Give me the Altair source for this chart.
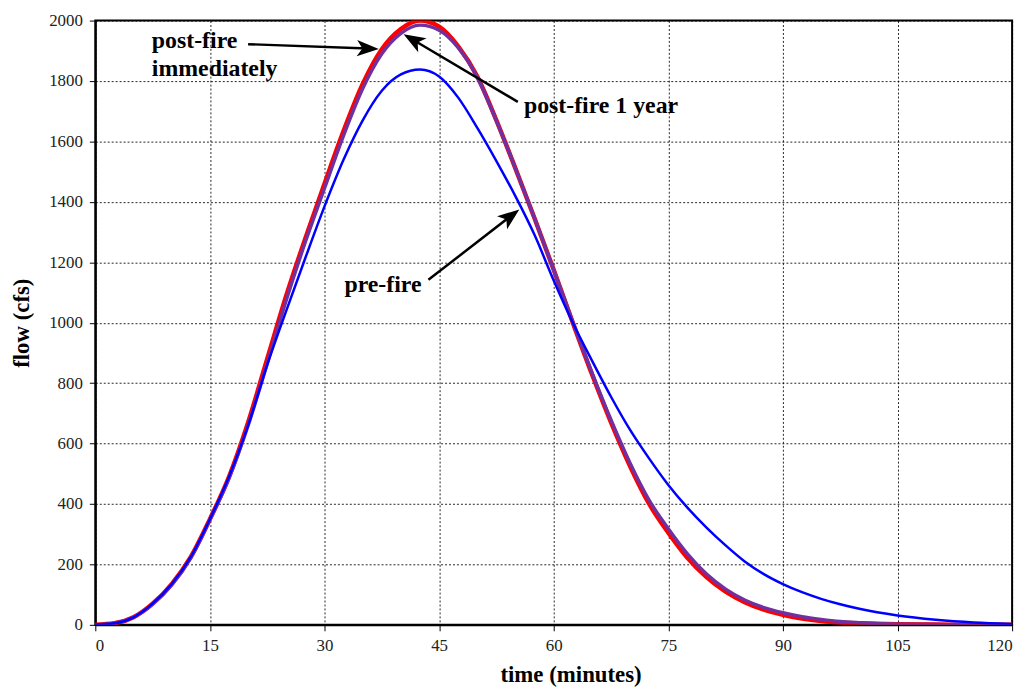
import math
import altair as alt
import pandas as pd

# ---- data ----
time_min = [0, 2.5, 5, 7.5, 10, 12.5, 15, 17.5, 20, 22.5, 25, 27.5, 30, 32.5, 35, 37.5, 40,
            42.5, 45, 47.5, 50, 52.5, 55, 57.5, 60, 62.5, 65, 67.5, 70, 72.5, 75, 77.5, 80,
            82.5, 85, 87.5, 90, 92.5, 95, 97.5, 100, 105, 110, 115, 120]

post_fire_immediately = [0, 5, 25, 70, 135, 225, 350, 490, 670, 880, 1090, 1280, 1460, 1635, 1790,
                         1905, 1972, 2000, 1980, 1915, 1815, 1670, 1510, 1345, 1175, 1000, 830, 670,
                         525, 400, 305, 222, 158, 110, 75, 50, 33, 21, 13, 8, 5, 2, 1, 0, 0]

post_fire_1_year = [0, 5, 25, 68, 132, 222, 348, 485, 660, 865, 1075, 1268, 1445, 1620, 1775,
                    1890, 1958, 1985, 1968, 1910, 1812, 1668, 1510, 1345, 1175, 1002, 835, 678,
                    535, 412, 318, 235, 168, 118, 82, 57, 40, 27, 18, 11, 7, 2, 1, 0, 0]

pre_fire = [0, 5, 25, 70, 135, 225, 350, 490, 660, 860, 1040, 1215, 1385, 1540, 1670,
            1768, 1822, 1838, 1815, 1745, 1645, 1535, 1418, 1290, 1140, 1000, 875, 755,
            645, 550, 463, 388, 322, 263, 210, 168, 135, 108, 86, 68, 53, 31, 17, 8, 3]

series_names = ["post-fire immediately", "post-fire 1 year", "pre-fire"]
series_colors = ["#ff0000", "#7030a0", "#0000ff"]
series_widths = [4.5, 3.5, 2.5]

x_ticks = [0, 15, 30, 45, 60, 75, 90, 105, 120]
y_ticks = list(range(0, 2001, 200))

# annotation labels (data coordinates)
label_text = ["post-fire", "immediately", "post-fire 1 year", "pre-fire"]
label_x = [7.4, 7.4, 56.1, 42.7]
label_y = [1931, 1839, 1718, 1126]
label_align = ["left", "left", "left", "right"]

# arrows: start -> tip (data coordinates)
arrow_x0 = [20.0, 55.3, 43.6]
arrow_y0 = [1922, 1731, 1142]
arrow_x1 = [37.1, 40.35, 55.5]
arrow_y1 = [1906, 1955, 1375]

# ---- layout ----
W, H = 924, 609
FONT = "Liberation Serif"
sx = W / 120.0
sy = H / 2000.0

frames = []
vals = [post_fire_immediately, post_fire_1_year, pre_fire]
for name, v in zip(series_names, vals):
    frames.append(pd.DataFrame({"time": time_min, "flow": v, "series": name}))
df = pd.concat(frames, ignore_index=True)

xscale = alt.Scale(domain=[0, 120], nice=False, zero=False)
yscale = alt.Scale(domain=[0, 2000], nice=False)

x_axis = alt.Axis(values=x_ticks, title="time (minutes)", grid=True, format="d",
                  gridColor="#000000", gridDash=[2, 2], gridWidth=1, gridOpacity=0.85,
                  domainColor="#000000", domainWidth=2, tickColor="#000000", tickSize=6,
                  tickWidth=1, labelFont=FONT, labelFontSize=17, labelColor="#222222",
                  labelPadding=7, titleFont=FONT, titleFontSize=23, titleFontWeight="bold",
                  titleColor="#000000", titleX=479, titleY=50, titleBaseline="middle",
                  titleAlign="center")
y_axis = alt.Axis(values=y_ticks, title="flow (cfs)", grid=True, format="d",
                  gridColor="#000000", gridDash=[2, 2], gridWidth=1, gridOpacity=0.85,
                  domainColor="#000000", domainWidth=2, tickColor="#000000", tickSize=6,
                  tickWidth=1, labelFont=FONT, labelFontSize=17, labelColor="#222222",
                  labelPadding=7, titleFont=FONT, titleFontSize=23, titleFontWeight="bold",
                  titleColor="#000000", titleAngle=270, titleX=-74, titleY=H / 2,
                  titleAlign="center", titleBaseline="middle")


def X(field):
    return alt.X(field, scale=xscale, axis=x_axis)


def Y(field):
    return alt.Y(field, scale=yscale, axis=y_axis)


layers = []
for i, name in enumerate(series_names):
    sub = df[df.series == name]
    layers.append(
        alt.Chart(sub).mark_line(interpolate="monotone", color=series_colors[i],
                                 strokeWidth=series_widths[i], clip=True).encode(
            x=X("time:Q"), y=Y("flow:Q"))
    )

lab_df = pd.DataFrame({"t": label_text, "x": label_x, "y": label_y, "al": label_align})
for al in ["left", "right"]:
    layers.append(
        alt.Chart(lab_df[lab_df.al == al]).mark_text(
            font=FONT, fontSize=24, fontWeight="bold", color="#000000",
            align=al, baseline="middle").encode(
            x=X("x:Q"), y=Y("y:Q"), text="t:N")
    )

# arrow shafts and heads
head_len = 22.0
ax0, ay0, ax1, ay1, hx, hy, ang = [], [], [], [], [], [], []
for x0, y0, x1, y1 in zip(arrow_x0, arrow_y0, arrow_x1, arrow_y1):
    dxp = (x1 - x0) * sx
    dyp = -(y1 - y0) * sy
    L = math.hypot(dxp, dyp)
    ux, uy = dxp / L, dyp / L
    cxp = -ux * head_len / 2
    cyp = -uy * head_len / 2
    hx.append(x1 + cxp / sx)
    hy.append(y1 - cyp / sy)
    ax0.append(x0)
    ay0.append(y0)
    ax1.append(x1 + cxp / sx)
    ay1.append(y1 - cyp / sy)
    ang.append(math.degrees(math.atan2(dyp, dxp)) % 360)

arr_df = pd.DataFrame({"x0": ax0, "y0": ay0, "x1": ax1, "y1": ay1,
                       "hx": hx, "hy": hy, "ang": ang})
layers.append(
    alt.Chart(arr_df).mark_rule(color="#000000", strokeWidth=2.5).encode(
        x=X("x0:Q"), y=Y("y0:Q"), x2="x1:Q", y2="y1:Q")
)
layers.append(
    alt.Chart(arr_df).mark_point(
        shape="M1,0L-1,-0.75L-0.5,0L-1,0.75Z", filled=True, color="#000000",
        opacity=1, size=head_len * head_len).encode(
        x=X("hx:Q"), y=Y("hy:Q"), angle=alt.Angle("ang:Q", scale=None))
)

chart = alt.layer(*layers).properties(
    width=W, height=H,
    autosize=alt.AutoSizeParams(type="none"),
    padding={"left": 88, "top": 10, "right": 13, "bottom": 64},
    background="#ffffff",
).configure_view(stroke="#000000", strokeWidth=2)

chart.save("out.html", embed_options={"renderer": "svg", "actions": False})
